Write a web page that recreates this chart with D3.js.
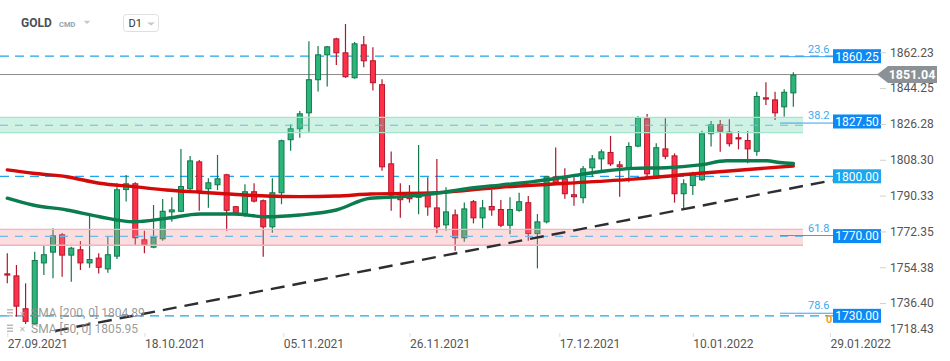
<!DOCTYPE html>
<html><head><meta charset="utf-8">
<script src="https://cdn.jsdelivr.net/npm/d3@7"></script>
<style>
html,body{margin:0;padding:0;background:#fff;}
svg{display:block;font-family:Roboto,"Noto Sans",Arial,sans-serif;}
</style></head>
<body><svg id="c" width="950" height="361"></svg>
<script>
// ---------- DATA ----------
const dates = [
 "27.09.2021","28.09.2021","29.09.2021","30.09.2021",
 "01.10.2021","04.10.2021","05.10.2021","06.10.2021","07.10.2021","08.10.2021","11.10.2021","12.10.2021","13.10.2021","14.10.2021","15.10.2021","18.10.2021","19.10.2021","20.10.2021","21.10.2021","22.10.2021","25.10.2021","26.10.2021","27.10.2021","28.10.2021","29.10.2021",
 "01.11.2021","02.11.2021","03.11.2021","04.11.2021","05.11.2021","08.11.2021","09.11.2021","10.11.2021","11.11.2021","12.11.2021","15.11.2021","16.11.2021","17.11.2021","18.11.2021","19.11.2021","22.11.2021","23.11.2021","24.11.2021","25.11.2021","26.11.2021","29.11.2021","30.11.2021",
 "01.12.2021","02.12.2021","03.12.2021","06.12.2021","07.12.2021","08.12.2021","09.12.2021","10.12.2021","13.12.2021","14.12.2021","15.12.2021","16.12.2021","17.12.2021","20.12.2021","21.12.2021","22.12.2021","23.12.2021","24.12.2021","27.12.2021","28.12.2021","29.12.2021","30.12.2021","31.12.2021",
 "03.01.2022","04.01.2022","05.01.2022","06.01.2022","07.01.2022","10.01.2022","11.01.2022","12.01.2022","13.01.2022","14.01.2022","17.01.2022","18.01.2022","19.01.2022","20.01.2022","21.01.2022","24.01.2022","25.01.2022",
 "26.01.2022","27.01.2022","28.01.2022","29.01.2022"
];
const openP  = [1751.3,1750.3,1733.8,1725.7,1756.3,1761.7,1770.9,1760.2,1763.4,1756.3,1759.2,1753.3,1759.7,1793.1,1796.5,1768.4,1764.2,1768.4,1781.9,1782.2,1793.5,1807.5,1793.5,1795.5,1801.0,1785.0,1780.9,1792.5,1788.0,1774.4,1791.5,1818.1,1823.6,1831.6,1848.2,1860.7,1869.2,1862.2,1849.2,1866.2,1858.2,1846.2,1806.5,1790.3,1790.3,1789.5,1792.0,1784.4,1775.4,1780.9,1768.9,1787.5,1778.9,1785.1,1783.6,1775.2,1782.7,1787.0,1771.0,1776.9,1800.0,1799.0,1791.0,1789.0,1804.0,1808.5,1812.2,1806.0,1804.0,1814.9,1829.1,1798.8,1814.0,1810.5,1791.0,1795.1,1798.0,1821.1,1826.1,1822.4,1819.6,1818.2,1812.3,1839.6,1838.6,1834.6,1841.6];
const highP  = [1761.4,1755.5,1746.3,1762.2,1765.0,1773.9,1771.5,1764.7,1767.5,1781.4,1761.4,1769.7,1796.5,1800.7,1797.0,1772.7,1785.6,1788.6,1789.5,1813.7,1810.2,1808.2,1799.0,1810.7,1801.3,1785.1,1796.0,1796.5,1788.3,1799.0,1818.4,1826.1,1832.8,1867.7,1865.4,1865.4,1869.5,1876.4,1867.4,1870.4,1864.7,1848.7,1812.5,1796.5,1795.6,1815.7,1799.5,1808.7,1794.5,1783.4,1786.8,1788.1,1788.1,1793.1,1788.1,1789.5,1791.8,1790.1,1781.1,1800.2,1814.4,1804.0,1800.7,1805.2,1810.7,1813.5,1820.2,1807.7,1817.1,1830.3,1831.3,1816.6,1829.1,1811.5,1798.5,1802.3,1822.9,1827.7,1828.2,1828.6,1822.7,1822.7,1842.4,1847.2,1842.4,1843.7,1852.2];
const lowP   = [1746.3,1729.6,1725.9,1725.4,1750.5,1748.8,1749.6,1747.1,1753.0,1754.1,1751.3,1751.6,1758.5,1787.3,1765.5,1761.4,1763.9,1767.7,1777.2,1782.0,1793.1,1782.7,1784.2,1793.1,1772.7,1781.3,1779.7,1786.8,1759.7,1771.7,1786.0,1812.8,1819.4,1822.4,1842.6,1845.0,1855.8,1849.4,1849.0,1854.7,1843.0,1802.8,1782.7,1779.2,1786.8,1780.9,1780.2,1771.4,1772.7,1762.7,1767.2,1776.4,1773.9,1780.2,1774.4,1770.9,1782.2,1767.7,1753.8,1776.4,1796.3,1788.8,1785.2,1786.5,1799.8,1803.2,1805.2,1789.8,1797.0,1814.6,1799.8,1798.8,1808.5,1786.8,1783.4,1790.6,1797.8,1814.9,1812.3,1814.9,1813.5,1806.5,1810.3,1835.8,1828.2,1829.9,1834.9];
const closeP = [1750.3,1734.6,1727.0,1758.0,1760.9,1770.4,1760.2,1764.2,1756.3,1758.5,1754.1,1760.9,1793.5,1796.5,1768.9,1765.5,1769.7,1782.7,1783.4,1795.1,1808.0,1792.3,1797.0,1799.0,1782.7,1781.4,1792.5,1787.3,1774.4,1792.0,1818.1,1824.1,1831.6,1848.7,1861.2,1865.2,1861.7,1849.7,1866.7,1857.7,1846.7,1804.5,1790.3,1788.0,1788.5,1790.3,1784.4,1774.4,1782.4,1768.9,1783.9,1778.9,1784.4,1782.9,1775.2,1783.6,1787.5,1771.0,1777.4,1800.0,1796.5,1791.0,1789.5,1804.0,1809.0,1812.5,1806.0,1804.5,1815.2,1829.5,1801.0,1814.6,1809.8,1791.0,1796.5,1801.8,1821.6,1826.1,1822.4,1816.1,1818.6,1813.5,1840.3,1838.6,1831.6,1842.4,1851.04];

const sma200Idx = [0,2.8,6.5,10.1,13.8,17.4,21.1,24.7,28.4,32,36,39.7,47,53.9,61.2,68.5,75.8,86];
const sma200Val = [1803.2,1801.5,1799.8,1796.5,1794.8,1793.1,1792.0,1791.0,1790.1,1789.8,1790.1,1791.1,1791.8,1794.5,1796.5,1798.6,1801.5,1805.2];
const sma50Idx  = [0,2.8,6.5,10.1,13.8,17.4,21.1,24.7,28.4,32,36,39.7,43.3,47,50.6,53.9,57.5,61.2,64.8,68.5,72.1,75.8,78.7,83.1,84.5,86];
const sma50Val  = [1789.0,1785.6,1783.1,1779.7,1777.2,1778.9,1781.1,1781.1,1779.7,1780.6,1783.1,1789.0,1789.8,1791.5,1794.0,1795.6,1797.3,1799.8,1802.3,1804.0,1804.3,1805.7,1807.8,1807.8,1806.9,1806.4];

const xTickLabels = ["27.09.2021","18.10.2021","05.11.2021","26.11.2021","17.12.2021","10.01.2022","29.01.2022"];
const xTickIndex  = [0, 15, 30.2, 44, 60.4, 75, 90];
const yTickValues = [1862.23,1844.25,1826.28,1808.30,1790.33,1772.35,1754.38,1736.40,1718.43];

const levelValues = [1860.25,1827.50,1800.00,1770.00,1730.00];
const dashedLevels = [1860.25,1800.00,1730.00];
const greenZone = [1821.9,1829.6,1825.6];
const pinkZone  = [1765.4,1773.4,1769.9];
const fibLabels = ["23.6","38.2","61.8","78.6"];
const fibValues = [1860.0,1826.7,1770.3,1731.3];
const trendIdx = [5.2,90.3];
const trendVal = [1722.4,1798.0];
const currentPrice = 1851.04;
const legendLabels = ["SMA [200, 0] 1804.89","SMA [50, 0] 1805.95"];

// ---------- SCALES ----------
const svg = d3.select("#c");
svg.append("rect").attr("width",950).attr("height",361).attr("fill","#fff");
const step = 9.14, x0 = 7.3;
const x = d3.scaleLinear().domain([0, dates.length-1]).range([x0, x0 + (dates.length-1)*step]);
const y = d3.scaleLinear().domain([1800, 1860.25]).range([176.3, 56.2]);
const plotRight = 833;

const n = closeP.length;
const candles = d3.range(n).map(i => ({i, o:openP[i], h:highP[i], l:lowP[i], c:closeP[i]}));

// ---------- DASHED LEVEL LINES ----------
const gL = svg.append("g");
gL.selectAll("line.lvl").data(dashedLevels).join("line")
  .attr("x1",0).attr("x2",plotRight)
  .attr("y1",d=>y(d)).attr("y2",d=>y(d))
  .attr("stroke","#1fa4ee").attr("stroke-width",1.2).attr("stroke-dasharray","9,6");

// current price line
svg.append("line").attr("x1",0).attr("x2",878).attr("y1",y(currentPrice)).attr("y2",y(currentPrice))
  .attr("stroke","#8a8a8a").attr("stroke-width",1);

// ---------- CANDLES ----------
const bw = 6;
const gC = svg.append("g");
const up = d => d.c >= d.o;
gC.selectAll("line.wick").data(candles).join("line")
  .attr("x1",d=>x(d.i)).attr("x2",d=>x(d.i))
  .attr("y1",d=>y(d.h)).attr("y2",d=>y(d.l))
  .attr("stroke",d=>up(d)?"#13784b":"#b2162c").attr("stroke-width",1.2);
gC.selectAll("rect.body").data(candles).join("rect")
  .attr("x",d=>x(d.i)-bw/2+0.5).attr("width",bw-1)
  .attr("y",d=>y(Math.max(d.o,d.c))+0.5)
  .attr("height",d=>Math.max(1.2, Math.abs(y(d.o)-y(d.c))-1))
  .attr("fill",d=>up(d)?"#2bb47b":"#ff3149")
  .attr("stroke",d=>up(d)?"#13784b":"#b2162c").attr("stroke-width",1);

// ---------- ZONES ----------
function zone(z, fill, stroke){
  svg.append("rect").attr("x",0).attr("width",803)
    .attr("y",y(z[1])).attr("height",y(z[0])-y(z[1]))
    .attr("fill",fill).attr("fill-opacity",0.3);
  [z[0],z[1]].forEach(v=>svg.append("line").attr("x1",0).attr("x2",803)
    .attr("y1",y(v)).attr("y2",y(v)).attr("stroke",stroke).attr("stroke-width",1.3));
  svg.append("line").attr("x1",0).attr("x2",803).attr("y1",y(z[2])).attr("y2",y(z[2]))
    .attr("stroke","#6cbbe6").attr("stroke-width",1.2).attr("stroke-dasharray","8,7");
}
zone(greenZone,"#5fd3a8","#a3e4cc");
zone(pinkZone,"#f28a94","#f2b4b9");

// ---------- TREND LINE ----------
svg.append("line")
  .attr("x1",x(trendIdx[0])).attr("y1",y(trendVal[0]))
  .attr("x2",x(trendIdx[1])).attr("y2",y(trendVal[1]))
  .attr("stroke","#2b2f33").attr("stroke-width",2.4).attr("stroke-dasharray","14,8");

// ---------- SMA LINES ----------
const line = d3.line().curve(d3.curveMonotoneX).x(d=>x(d[0])).y(d=>y(d[1]));
svg.append("path").datum(sma200Idx.map((d,i)=>[d,sma200Val[i]]))
  .attr("d",line).attr("fill","none").attr("stroke","#d40a0a").attr("stroke-width",3.4).attr("stroke-linecap","round");
svg.append("path").datum(sma50Idx.map((d,i)=>[d,sma50Val[i]]))
  .attr("d",line).attr("fill","none").attr("stroke","#0a7c4e").attr("stroke-width",3.4).attr("stroke-linecap","round");

// ---------- FIB LINES ----------
svg.selectAll("line.fib").data(fibValues).join("line")
  .attr("x1",780).attr("x2",plotRight).attr("y1",d=>y(d)).attr("y2",d=>y(d))
  .attr("stroke","#3a9ff0").attr("stroke-width",1);
svg.selectAll("text.fib").data(fibValues).join("text")
  .attr("x",808).attr("y",d=>y(d)-4).text((d,i)=>fibLabels[i])
  .attr("fill","#3aa8f0").attr("font-size",11);
svg.append("text").attr("x",826).attr("y",y(1730)+7).text("0")
  .attr("fill","#f5a020").attr("font-size",11).attr("font-weight","bold");

// ---------- LEVEL LABELS ----------
const gB = svg.append("g");
levelValues.forEach(v=>{
  gB.append("rect").attr("x",833).attr("y",y(v)-7).attr("width",48).attr("height",14)
    .attr("fill", v===1800 ? "#1ba6ef" : "#0d89f5");
  gB.append("text").attr("x",857).attr("y",y(v)+4.3).attr("text-anchor","middle")
    .attr("fill","#fff").attr("font-size",12).text(d3.format(".2f")(v));
});

// ---------- Y AXIS ----------
const yAxis = d3.axisRight(y).tickValues(yTickValues).tickFormat(d3.format(".2f")).tickSize(6).tickPadding(4);
const gy = svg.append("g").attr("transform","translate(880,0)").call(yAxis);
gy.select(".domain").remove();
gy.selectAll(".tick line").attr("stroke","#d0d0d0");
gy.selectAll(".tick text").attr("fill","#555").attr("font-size",12)
  .attr("font-family","Roboto,sans-serif")
  .attr("dy",d=> d<1725 ? "-0.55em" : "0.32em");

// current price label
const cy = y(currentPrice);
svg.append("path").attr("d",`M877,${cy} L888,${cy-8.5} L937,${cy-8.5} L937,${cy+8.5} L888,${cy+8.5} Z`)
  .attr("fill","#8b9195");
svg.append("text").attr("x",912).attr("y",cy+4.5).attr("text-anchor","middle")
  .attr("fill","#fff").attr("font-size",12.5).attr("font-weight","bold").text(d3.format(".2f")(currentPrice));

// ---------- X AXIS ----------
const xAxis = d3.axisBottom(x).tickValues(xTickIndex)
  .tickFormat((d,i)=>xTickLabels[i]).tickSize(4).tickPadding(6);
const gx = svg.append("g").attr("transform","translate(0,333)").call(xAxis);
gx.select(".domain").remove();
gx.selectAll(".tick line").attr("stroke","#dcdcdc");
gx.selectAll(".tick text").attr("text-anchor","start").attr("fill","#555").attr("font-size",12)
  .attr("font-family","Roboto,sans-serif").attr("dy","0.45em");

// ---------- LEGEND ----------
const gLeg = svg.append("g");
legendLabels.forEach((t,i)=>{
  const yy = 313 + i*15.5;
  gLeg.append("rect").attr("x",7).attr("y",yy-4).attr("width",6).attr("height",1.5).attr("fill","#bbb");
  gLeg.append("rect").attr("x",7).attr("y",yy-1).attr("width",6).attr("height",1.5).attr("fill","#bbb");
  gLeg.append("rect").attr("x",7).attr("y",yy+2).attr("width",6).attr("height",1.5).attr("fill","#bbb");
  gLeg.append("text").attr("x",19).attr("y",yy+3.5).text("✕").attr("fill","#b5b5b5").attr("font-size",8);
  gLeg.append("text").attr("x",31).attr("y",yy+4.3).text(t).attr("fill","#8e8e8e").attr("font-size",12).attr("fill-opacity",0.9);
});

// ---------- HEADER ----------
svg.append("text").attr("x",21).attr("y",27.3).text("GOLD").attr("fill","#4a5056")
  .attr("font-size",12).attr("font-weight","bold");
svg.append("text").attr("x",59).attr("y",26.7).text("CMD").attr("fill","#93a3af")
  .attr("font-size",7.5).attr("font-weight","bold");
svg.append("path").attr("d","M83.5,20.7 L90.5,20.7 L87,24 Z").attr("fill","#c8c8c8");
svg.append("rect").attr("x",123.5).attr("y",14.5).attr("width",35).attr("height",17).attr("rx",3)
  .attr("fill","#fff").attr("stroke","#e0e0e0");
svg.append("text").attr("x",128.5).attr("y",27).text("D1").attr("fill","#333").attr("font-size",11);
svg.append("path").attr("d","M147,22.5 L155,22.5 L151,25.5 Z").attr("fill","#c8c8c8");
</script></body></html>
